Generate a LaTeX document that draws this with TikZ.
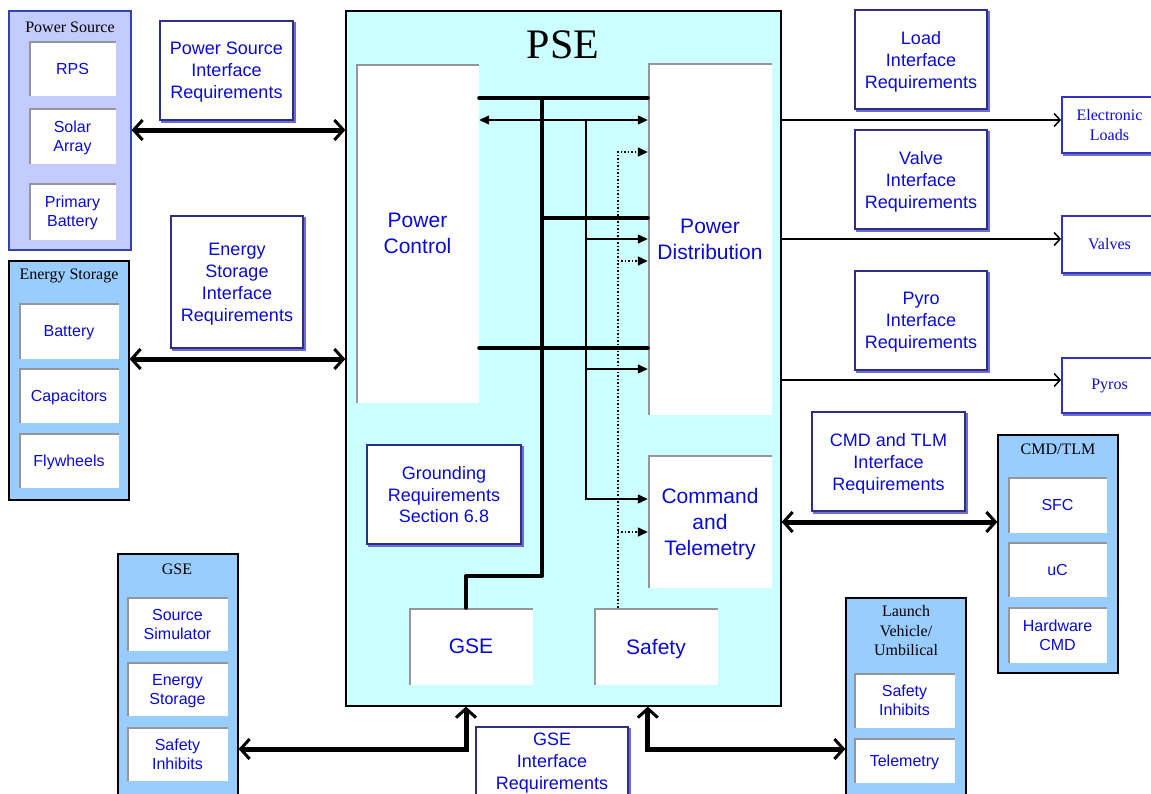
\documentclass[tikz,border=0pt]{standalone}
\usepackage{fontspec}
\setmainfont{Liberation Serif}
\setsansfont{Liberation Sans}
\usetikzlibrary{arrows.meta,shadows,calc}

\definecolor{psefill}{RGB}{204,255,255}
\definecolor{srcfill}{RGB}{196,204,255}
\definecolor{srcline}{RGB}{51,68,170}
\definecolor{grpfill}{RGB}{153,204,255}
\definecolor{txtblue}{RGB}{10,10,215}
\definecolor{reqnavy}{RGB}{45,45,140}
\definecolor{reqshade}{RGB}{110,110,210}
\definecolor{loadline}{RGB}{51,51,190}
\definecolor{itemgray}{RGB}{150,150,150}

\tikzset{
  grpbox/.style={draw=black, fill=grpfill, line width=1.2pt, inner sep=0pt},
  grptitle/.style={font=\fontsize{16}{19.5}\selectfont, align=center, text=black},
  itembox/.style={fill=white, inner sep=0pt, text=txtblue, align=center, text depth=-2.6pt,
    font=\sffamily\fontsize{16}{19}\selectfont,
    path picture={\draw[itemgray, line width=4pt] (path picture bounding box.south west)
      -- (path picture bounding box.north west) -- (path picture bounding box.north east);}},
  bigitem/.style={itembox, text depth=-3.5pt, font=\sffamily\fontsize{21}{26}\selectfont},
  reqbox/.style={draw=reqnavy, fill=white, line width=1.8pt, inner sep=0pt, text=txtblue, align=center,
    text depth=-2.2pt, font=\sffamily\fontsize{18}{22}\selectfont,
    general shadow={draw=reqshade, line width=1.5pt, shadow xshift=1.8pt, shadow yshift=-1.8pt}},
  loadbox/.style={draw=loadline, fill=white, line width=1.8pt, inner sep=0pt, text=txtblue, align=center,
    font=\rmfamily\fontsize{16}{20}\selectfont,
    general shadow={draw=reqshade, line width=1.5pt, shadow xshift=1.8pt, shadow yshift=-1.8pt}},
  bigarrow/.style={line width=5pt,
    {Straight Barb[length=9pt,width=20pt,line width=3pt]}-{Straight Barb[length=9pt,width=20pt,line width=3pt]}},
  busline/.style={line width=4pt, line cap=round},
  sigarrow/.style={line width=1.3pt, -{Triangle[length=10pt,width=9pt]}},
  sigboth/.style={line width=1.3pt, {Triangle[length=10pt,width=9pt]}-{Triangle[length=10pt,width=9pt]}},
  inhibit/.style={line width=1.5pt, dotted, -{Triangle[length=10pt,width=9pt]}},
  outarrow/.style={line width=2pt, -{Straight Barb[length=6pt,width=13pt,line width=1.5pt]}}
}

\begin{document}
\begin{tikzpicture}[x=1pt,y=-1pt,font=\sffamily]
\useasboundingbox (0,0) rectangle (1151,793);

\node[grpbox, draw=srcline, fill=srcfill, minimum width=122pt, minimum height=239pt] (psrc) at (70,130.5) {};
\node[grptitle] (psrctitle) at (70,27) {Power Source};
\node[itembox, minimum width=87pt, minimum height=55pt] (rps) at (72.5,68.5) {RPS};
\node[itembox, minimum width=87pt, minimum height=56pt] (solar) at (72.5,136) {Solar\\Array};
\node[itembox, minimum width=87pt, minimum height=57pt] (pbat) at (72.5,211.5) {Primary\\Battery};

\node[grpbox, minimum width=120pt, minimum height=239pt] (esto) at (69,380.5) {};
\node[grptitle] (estotitle) at (69,276) {Energy Storage};
\node[itembox, minimum width=100pt, minimum height=56pt] (bat) at (69,331) {Battery};
\node[itembox, minimum width=100pt, minimum height=55pt] (caps) at (69,395.5) {Capacitors};
\node[itembox, minimum width=100pt, minimum height=55pt] (fly) at (69,460.5) {Flywheels};

\node[reqbox, minimum width=133pt, minimum height=99pt] (psreq) at (226.5,70.5) {Power Source\\Interface\\Requirements};
\node[reqbox, minimum width=132pt, minimum height=132pt] (esreq) at (237,282) {Energy\\Storage\\Interface\\Requirements};

\node[draw=black, fill=psefill, line width=1.2pt, minimum width=435pt, minimum height=695pt] (pse) at (563.5,358.5) {};
\node[font=\rmfamily\fontsize{42}{42}\selectfont] (psetitle) at (563,45) {PSE};
\node[bigitem, minimum width=123pt, minimum height=339pt] (ctrl) at (417.5,233.5) {Power\\Control};
\node[bigitem, minimum width=124pt, minimum height=352pt] (dist) at (710,239) {Power\\Distribution};
\node[bigitem, minimum width=124pt, minimum height=133pt] (cmd) at (710,521.5) {Command\\and\\Telemetry};
\node[bigitem, minimum width=124pt, minimum height=77pt] (gsein) at (471,646.5) {GSE};
\node[bigitem, minimum width=124pt, minimum height=77pt] (safety) at (656,646.5) {Safety};
\node[reqbox, text depth=0pt, font=\sffamily\fontsize{18}{21.5}\selectfont, minimum width=154pt, minimum height=99pt] (gndreq) at (444,494.5) {Grounding\\Requirements\\Section 6.8};

\node[reqbox, minimum width=132pt, minimum height=99pt] (loadreq) at (921,59.5) {Load\\Interface\\Requirements};
\node[reqbox, minimum width=132pt, minimum height=99pt] (valvereq) at (921,179.5) {Valve\\Interface\\Requirements};
\node[reqbox, minimum width=132pt, minimum height=99pt] (pyroreq) at (921,320.5) {Pyro\\Interface\\Requirements};
\node[reqbox, minimum width=153pt, minimum height=99pt] (cmdreq) at (888.5,461.5) {CMD and TLM\\Interface\\Requirements};

\node[loadbox, minimum width=95pt, minimum height=56pt] (eload) at (1109.5,125) {Electronic\\Loads};
\node[loadbox, minimum width=95pt, minimum height=57pt] (valves) at (1109.5,244.5) {Valves};
\node[loadbox, minimum width=95pt, minimum height=55pt] (pyros) at (1109.5,385.5) {Pyros};

\node[grpbox, minimum width=120pt, minimum height=238pt] (cmdgrp) at (1058,554) {};
\node[grptitle] (cmdtitle) at (1058,449) {CMD/TLM};
\node[itembox, minimum width=99pt, minimum height=56pt] (sfc) at (1057.5,505) {SFC};
\node[itembox, minimum width=99pt, minimum height=55pt] (uc) at (1057.5,569.5) {uC};
\node[itembox, minimum width=99pt, minimum height=56pt] (hwcmd) at (1057.5,635) {Hardware\\CMD};

\node[grpbox, minimum width=120pt, minimum height=202pt] (lvgrp) at (906,699) {};
\node[grptitle] (lvtitle) at (906,631) {Launch\\Vehicle/\\Umbilical};
\node[itembox, minimum width=101pt, minimum height=55pt] (lvsafe) at (904.5,700.5) {Safety\\Inhibits};
\node[itembox, minimum width=101pt, minimum height=45pt] (lvtlm) at (904.5,760.5) {Telemetry};

\node[grpbox, minimum width=120pt, minimum height=246pt] (gsegrp) at (178,677) {};
\node[grptitle] (gsetitle) at (177,569) {GSE};
\node[itembox, minimum width=101pt, minimum height=54pt] (srcsim) at (177.5,624) {Source\\Simulator};
\node[itembox, minimum width=101pt, minimum height=54pt] (gsestor) at (177.5,689) {Energy\\Storage};
\node[itembox, minimum width=101pt, minimum height=54pt] (gsesafe) at (177.5,754) {Safety\\Inhibits};

\node[reqbox, minimum width=152pt, minimum height=68pt] (gsereq) at (552,761) {GSE\\Interface\\Requirements};

\coordinate (bus1) at (542,98);
\coordinate (bus2) at (542,218);
\coordinate (bus3) at (542,348);
\coordinate (bus4) at (542,576);
\coordinate (gsetap) at (466,576);
\coordinate (sig1) at (586,120);
\coordinate (inh) at ($(safety.north west)+(24,0)$);
\coordinate (gndrow) at (0,749);

\draw[busline] (ctrl.east |- bus1) -- (dist.west |- bus1);
\draw[busline] (bus2) -- (dist.west |- bus2);
\draw[busline] (ctrl.east |- bus3) -- (dist.west |- bus3);
\draw[busline, line join=round] (bus1) -- (bus4) -- (gsetap) -- (gsetap |- gsein.north);

\draw[sigboth] (ctrl.east |- sig1) -- (dist.west |- sig1);
\draw[sigarrow] (sig1) |- (cmd.west |- 0,499);
\foreach \y in {239,369}
  \draw[sigarrow] (sig1 |- 0,\y) -- (dist.west |- 0,\y);

\draw[inhibit] (inh) |- (dist.west |- 0,152);
\foreach \y in {261,532}
  \draw[inhibit] (inh |- 0,\y) -- (dist.west |- 0,\y);

\draw[bigarrow] (psrc.east |- 0,130) -- (pse.west |- 0,130);
\draw[bigarrow] (esto.east |- 0,359) -- (pse.west |- 0,359);
\draw[bigarrow] (pse.east |- 0,522) -- (cmdgrp.west |- 0,522);
\draw[bigarrow] (gsegrp.east |- gndrow) -| (gsetap |- pse.south);
\draw[bigarrow] (dist.west |- pse.south) |- (lvgrp.west |- gndrow);

\foreach \n/\y in {eload/120,valves/239,pyros/380}
  \draw[outarrow] (pse.east |- 0,\y) -- (\n.west |- 0,\y);

\end{tikzpicture}
\end{document}
